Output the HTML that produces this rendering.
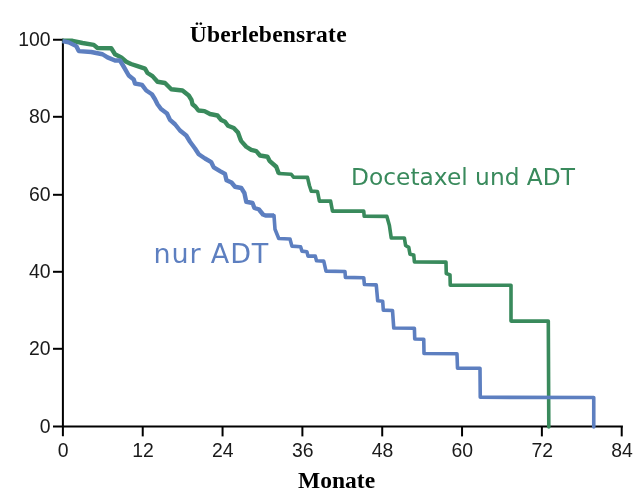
<!DOCTYPE html>
<html lang="de"><head><meta charset="utf-8"><title>Überlebensrate</title>
<style>
html,body{margin:0;padding:0;background:#fff;}
svg{display:block;}
.ax{font-family:"Liberation Sans",sans-serif;font-size:19.4px;fill:#1a1a1a;}
.ttl{font-family:"Liberation Serif",serif;font-weight:bold;font-size:23.5px;fill:#000;}
.lg{font-family:"DejaVu Sans","Liberation Sans",sans-serif;}
</style></head><body>
<svg width="642" height="503" viewBox="0 0 642 503">
<rect width="642" height="503" fill="#ffffff"/>

<g stroke="#000" stroke-width="2" fill="none">
<line x1="62.9" y1="38.8" x2="62.9" y2="436.3"/>
<line x1="53" y1="426.6" x2="622.9" y2="426.6"/>
<line x1="53" y1="39.75" x2="62.9" y2="39.75"/>
<line x1="53" y1="116.80" x2="62.9" y2="116.80"/>
<line x1="53" y1="194.80" x2="62.9" y2="194.80"/>
<line x1="53" y1="271.80" x2="62.9" y2="271.80"/>
<line x1="53" y1="348.80" x2="62.9" y2="348.80"/>
<line x1="142.73" y1="426.6" x2="142.73" y2="436.4"/>
<line x1="222.56" y1="426.6" x2="222.56" y2="436.4"/>
<line x1="302.39" y1="426.6" x2="302.39" y2="436.4"/>
<line x1="382.22" y1="426.6" x2="382.22" y2="436.4"/>
<line x1="462.05" y1="426.6" x2="462.05" y2="436.4"/>
<line x1="541.88" y1="426.6" x2="541.88" y2="436.4"/>
<line x1="621.71" y1="426.6" x2="621.71" y2="436.4"/>
</g>
<text class="ax" x="50.5" y="45.65" text-anchor="end">100</text>
<text class="ax" x="50.5" y="122.70" text-anchor="end">80</text>
<text class="ax" x="50.5" y="200.70" text-anchor="end">60</text>
<text class="ax" x="50.5" y="277.70" text-anchor="end">40</text>
<text class="ax" x="50.5" y="354.70" text-anchor="end">20</text>
<text class="ax" x="50.5" y="432.50" text-anchor="end">0</text>
<text class="ax" x="63.20" y="456.6" text-anchor="middle">0</text>
<text class="ax" x="143.03" y="456.6" text-anchor="middle">12</text>
<text class="ax" x="222.86" y="456.6" text-anchor="middle">24</text>
<text class="ax" x="302.69" y="456.6" text-anchor="middle">36</text>
<text class="ax" x="382.52" y="456.6" text-anchor="middle">48</text>
<text class="ax" x="462.35" y="456.6" text-anchor="middle">60</text>
<text class="ax" x="542.18" y="456.6" text-anchor="middle">72</text>
<text class="ax" x="622.01" y="456.6" text-anchor="middle">84</text>
<path transform="translate(0,0.5)" d="M62.5,40.3 L72.5,40.3 L82.5,42.5 L93.75,44.4 L97.5,47.5 L111.25,47.75 L115,53.75 L121.25,56.9 L126.25,61.25 L131,63.5 L137.5,65.6 L145,68.1 L147.5,72.5 L152.5,75.6 L157.5,81.25 L165,82.5 L171.25,88.75 L182.5,90 L188.75,95 L191.5,99.5 L192.5,103.75 L195.5,106.25 L198.4,110 L204.5,110.6 L210,113.5 L217.5,115 L221.25,119.6 L225,121.25 L228,125.3 L233.75,127.5 L238,132 L240.5,139 L241.25,140.6 L246.25,146.25 L251.25,149.4 L256.25,150.6 L260,155 L267.5,156.25 L269.5,160.3 L276.25,166.25 L278.75,173" fill="none" stroke="#398a5c" stroke-width="4.4" stroke-linejoin="round" stroke-linecap="butt"/>
<path transform="translate(0,0.5)" d="M278.75,173 L291.25,173.75 L293.5,176.6 L307.5,176.9 L309.4,185 L311.25,190.6 L317.5,191 L319.4,200.6 L330.6,200.6 L332.5,210.6 L363.75,210.6 L364.2,215.8 L386.9,215.9 L389.4,225 L391.25,237.5 L404.4,237.5 L405.6,245 L408.75,246.9 L410,253.75 L413.75,254.4 L414.4,261.4 L446,261.6 L446.25,273 L450,274.4 L450.25,284.75 L511,284.75 L511,320.6 L548.3,320.6 L548.8,426.4" fill="none" stroke="#398a5c" stroke-width="3.6" stroke-linejoin="round" stroke-linecap="round"/>
<path transform="translate(0,0.5)" d="M62.5,40.6 L68.75,41.9 L76.25,45.6 L78.75,50.6 L91.25,51.5 L102.5,53.75 L107.5,56.9 L115,60 L120,60 L123.75,66.25 L128.75,75 L133.75,79 L135,83 L142,84.4 L146.25,90 L151.9,93.75 L155,98.75 L157.5,103.75 L161,108.5 L167,113 L170,119.4 L175,123.75 L180,130 L186.25,135 L190,141.25 L195,148 L198.75,153.75 L205,158 L211.25,161.7 L213.75,166.9 L220,170.6 L225,173.4 L226.5,179.7 L231.5,182 L235,186.25 L241.25,187.5 L244.4,192.5 L246.25,201.25 L252.5,202.5 L254.4,207.5 L258.75,208.75 L263,214 L265.5,215 L274,215" fill="none" stroke="#5d7fc0" stroke-width="4.4" stroke-linejoin="round" stroke-linecap="butt"/>
<path transform="translate(0,0.5)" d="M274,215 L275,228.75 L278.75,238 L290,238.5 L291.9,245.6 L300.6,246.25 L301.9,250.6 L306.9,251.25 L308,255.6 L315.3,255.6 L316.5,260.3 L323.75,260.6 L326,270.6 L345,271 L345.4,276.9 L363.75,277.25 L364.4,284 L376.25,284.4 L377.7,300.3 L382.7,300.8 L383.3,309.6 L392.5,310 L393.75,327.5 L414.4,327.75 L414.75,338.5 L423.75,338.75 L424,353 L457,353.2 L457.5,367.75 L480,367.75 L480.25,396.8 L593.75,397 L593.75,426.4" fill="none" stroke="#5d7fc0" stroke-width="3.6" stroke-linejoin="round" stroke-linecap="round"/>
<text class="ttl" x="189.7" y="41.8" letter-spacing="0.22">Überlebensrate</text>
<text class="ttl" x="298.1" y="487.7">Monate</text>
<text class="lg" x="351.1" y="184.7" font-size="23.3" fill="#398a5c">Docetaxel und ADT</text>
<text class="lg" x="153.5" y="262.8" font-size="27" letter-spacing="0.85" fill="#5d7fc0">nur ADT</text>
</svg></body></html>
